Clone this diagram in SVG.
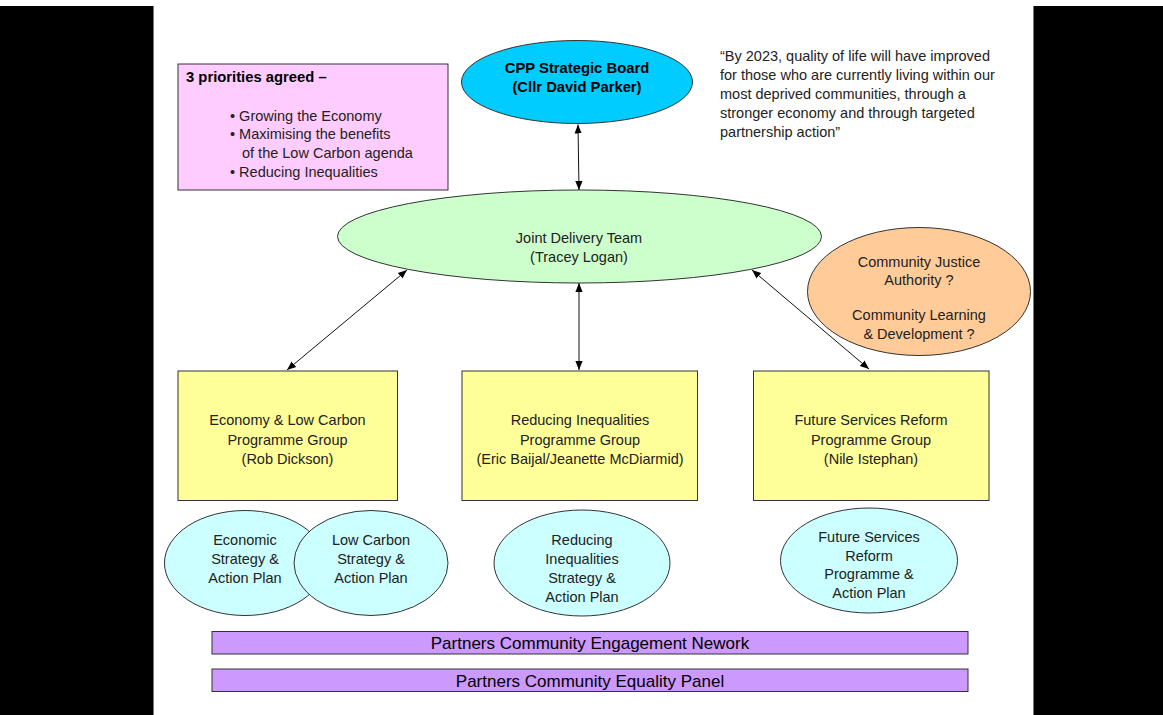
<svg xmlns="http://www.w3.org/2000/svg" width="1163" height="715" viewBox="0 0 1163 715">
<defs>
<marker id="ah" viewBox="0 0 10 10" refX="10" refY="5" markerWidth="9" markerHeight="9" markerUnits="userSpaceOnUse" orient="auto-start-reverse">
<path d="M0,1 L10,5 L0,9 z" fill="#000"/>
</marker>
</defs>
<style>
text{font-family:"Liberation Sans",Arial,sans-serif;font-size:14.5px;fill:#222}
.c{text-anchor:middle}
.b{font-weight:bold;fill:#000;font-size:14.8px}
.bar{font-size:17px;fill:#000}
.shape{stroke:#333;stroke-width:1}
.conn{stroke:#111;stroke-width:1;fill:none;marker-start:url(#ah);marker-end:url(#ah)}
</style>
<rect x="0" y="0" width="1163" height="715" fill="#fff"/>
<rect x="0" y="6" width="153" height="709" fill="#000"/>
<rect x="1034" y="6" width="129" height="709" fill="#000"/>
<line x1="153.5" y1="6" x2="153.5" y2="715" stroke="#777"/>
<line x1="1033.5" y1="6" x2="1033.5" y2="715" stroke="#777"/>

<g id="priorities">
<rect class="shape" x="178" y="64" width="270" height="126" fill="#FFCCFF"/>
<text class="b" x="186" y="82">3 priorities agreed –</text>
<text x="230" y="121">• Growing the Economy</text>
<text x="230" y="139">• Maximising the benefits</text>
<text x="242" y="158">of the Low Carbon agenda</text>
<text x="230" y="177">• Reducing Inequalities</text>
</g>

<g id="quote">
<text x="720" y="61">“By 2023, quality of life will have improved</text>
<text x="720" y="80">for those who are currently  living within our</text>
<text x="720" y="99">most deprived communities, through  a</text>
<text x="720" y="118">stronger economy and through  targeted</text>
<text x="720" y="137">partnership action”</text>
</g>

<g id="cpp-board">
<ellipse class="shape" cx="577" cy="82" rx="115.5" ry="41.5" fill="#00CCFF"/>
<text class="c b" x="577" y="73">CPP Strategic Board</text>
<text class="c b" x="577" y="92">(Cllr David Parker)</text>
</g>

<g id="joint-delivery-team">
<ellipse class="shape" cx="579.5" cy="236.5" rx="242" ry="46.5" fill="#CCFFCC"/>
<text class="c" x="579" y="243">Joint Delivery Team</text>
<text class="c" x="579" y="262">(Tracey Logan)</text>
</g>

<g id="community-justice">
<ellipse class="shape" cx="919" cy="291.5" rx="111.5" ry="64" fill="#FFCC99"/>
<text class="c" x="919" y="267">Community  Justice</text>
<text class="c" x="919" y="285">Authority  ?</text>
<text class="c" x="919" y="320">Community  Learning</text>
<text class="c" x="919" y="339">&amp; Development ?</text>
</g>

<g id="economy-group">
<rect class="shape" x="178" y="371" width="219.5" height="129.5" fill="#FFFF99"/>
<text class="c" x="287.5" y="425">Economy &amp; Low Carbon</text>
<text class="c" x="287.5" y="444.5">Programme Group</text>
<text class="c" x="287.5" y="464">(Rob Dickson)</text>
</g>

<g id="inequalities-group">
<rect class="shape" x="462" y="371" width="235.5" height="129.5" fill="#FFFF99"/>
<text class="c" x="580" y="425">Reducing Inequalities</text>
<text class="c" x="580" y="444.5">Programme Group</text>
<text class="c" x="580" y="464">(Eric Baijal/Jeanette McDiarmid)</text>
</g>

<g id="future-services-group">
<rect class="shape" x="753.5" y="371" width="235.5" height="129.5" fill="#FFFF99"/>
<text class="c" x="871" y="425">Future  Services Reform</text>
<text class="c" x="871" y="444.5">Programme Group</text>
<text class="c" x="871" y="464">(Nile Istephan)</text>
</g>

<g id="economic-strategy">
<ellipse class="shape" cx="245" cy="563" rx="80.5" ry="52.5" fill="#CCFFFF"/>
<text class="c" x="245" y="545">Economic</text>
<text class="c" x="245" y="564">Strategy &amp;</text>
<text class="c" x="245" y="583">Action Plan</text>
</g>

<g id="low-carbon-strategy">
<ellipse class="shape" cx="371" cy="563" rx="77" ry="52.5" fill="#CCFFFF"/>
<text class="c" x="371" y="545">Low Carbon</text>
<text class="c" x="371" y="564">Strategy &amp;</text>
<text class="c" x="371" y="583">Action Plan</text>
</g>

<g id="inequalities-strategy">
<ellipse class="shape" cx="582" cy="563" rx="88" ry="53" fill="#CCFFFF"/>
<text class="c" x="582" y="545">Reducing</text>
<text class="c" x="582" y="564">Inequalities</text>
<text class="c" x="582" y="583">Strategy &amp;</text>
<text class="c" x="582" y="602">Action Plan</text>
</g>

<g id="future-services-programme">
<ellipse class="shape" cx="869" cy="560.5" rx="88.5" ry="52.5" fill="#CCFFFF"/>
<text class="c" x="869" y="542">Future  Services</text>
<text class="c" x="869" y="560.5">Reform</text>
<text class="c" x="869" y="579">Programme &amp;</text>
<text class="c" x="869" y="597.5">Action Plan</text>
</g>

<g id="engagement-network">
<rect class="shape" x="212" y="631.5" width="756" height="22.5" fill="#CC99FF"/>
<text class="c bar" x="590" y="648.5">Partners Community Engagement Nework</text>
</g>

<g id="equality-panel">
<rect class="shape" x="212" y="669" width="756" height="22.5" fill="#CC99FF"/>
<text class="c bar" x="590" y="686.5">Partners Community Equality Panel</text>
</g>

<g id="connectors">
<line class="conn" x1="578" y1="124.5" x2="579" y2="190"/>
<line class="conn" x1="407" y1="270" x2="287" y2="370"/>
<line class="conn" x1="579" y1="283" x2="579" y2="370"/>
<line class="conn" x1="752" y1="270" x2="869" y2="369"/>
</g>
</svg>
